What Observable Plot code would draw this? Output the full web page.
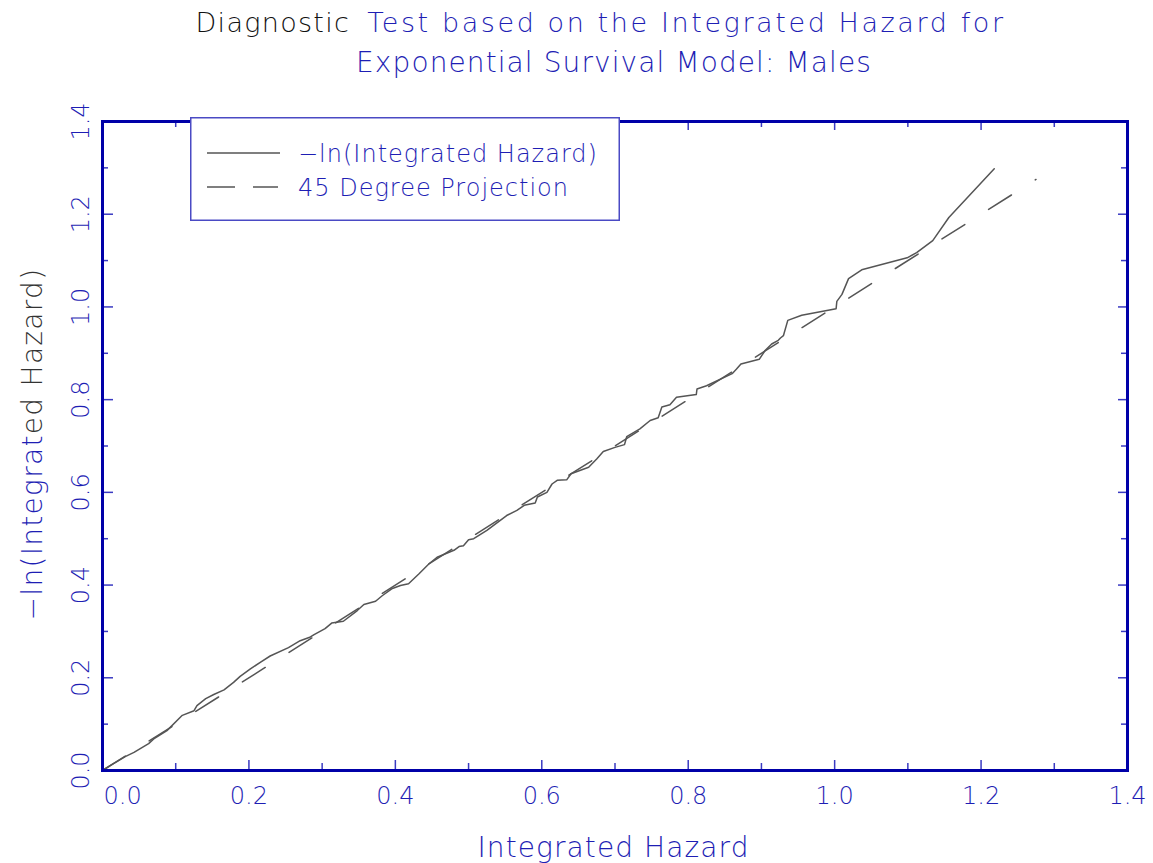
<!DOCTYPE html>
<html>
<head>
<meta charset="utf-8">
<script src="https://cdn.jsdelivr.net/npm/d3@7"></script>
<script src="https://cdn.jsdelivr.net/npm/@observablehq/plot@0.6"></script>
<style>
  body { margin: 0; background: #fff; }
  #wrap { position: relative; width: 1153px; height: 863px; overflow: hidden; }
  #legend { position: absolute; left: 190px; top: 117px; }
</style>
</head>
<body>
<div id="wrap"></div>
<script>
// ---- data ----
const integratedHazard = [0, 0.011, 0.031, 0.043, 0.063, 0.070, 0.088, 0.109, 0.125, 0.129, 0.141, 0.152, 0.166, 0.179, 0.188, 0.202, 0.216, 0.229, 0.254, 0.270, 0.284, 0.289, 0.304, 0.313, 0.329, 0.348, 0.357, 0.373, 0.382, 0.395, 0.407, 0.418, 0.432, 0.446, 0.457, 0.480, 0.487, 0.493, 0.500, 0.507, 0.525, 0.552, 0.566, 0.576, 0.591, 0.594, 0.607, 0.614, 0.621, 0.634, 0.640, 0.664, 0.675, 0.684, 0.700, 0.713, 0.716, 0.734, 0.748, 0.759, 0.764, 0.775, 0.784, 0.811, 0.812, 0.825, 0.860, 0.866, 0.872, 0.897, 0.905, 0.914, 0.923, 0.926, 0.930, 0.936, 0.955, 1.002, 1.003, 1.010, 1.019, 1.037, 1.099, 1.112, 1.134, 1.156, 1.218];
const negLnIntegratedHazard = [0, 0.011, 0.030, 0.039, 0.058, 0.068, 0.086, 0.119, 0.129, 0.140, 0.155, 0.164, 0.174, 0.190, 0.203, 0.219, 0.234, 0.247, 0.265, 0.280, 0.288, 0.293, 0.306, 0.318, 0.322, 0.345, 0.358, 0.365, 0.377, 0.392, 0.399, 0.403, 0.424, 0.446, 0.460, 0.475, 0.483, 0.485, 0.498, 0.500, 0.518, 0.550, 0.561, 0.572, 0.577, 0.590, 0.600, 0.618, 0.626, 0.627, 0.640, 0.654, 0.672, 0.688, 0.697, 0.703, 0.720, 0.737, 0.755, 0.761, 0.784, 0.789, 0.805, 0.811, 0.823, 0.830, 0.856, 0.866, 0.877, 0.887, 0.906, 0.920, 0.928, 0.933, 0.938, 0.971, 0.982, 0.996, 1.012, 1.027, 1.061, 1.080, 1.106, 1.117, 1.143, 1.193, 1.298];
const projectionX = [0, 1.275];
const projectionY = [0, 1.275];

const xMajorTicks = [0, 0.2, 0.4, 0.6, 0.8, 1.0, 1.2, 1.4];
const xMinorTicks = [0.1, 0.3, 0.5, 0.7, 0.9, 1.1, 1.3];
const yMajorTicks = [0, 0.2, 0.4, 0.6, 0.8, 1.0, 1.2, 1.4];
const yMinorTicks = [0.1, 0.3, 0.5, 0.7, 0.9, 1.1, 1.3];
const xTickLabels = ["0.0", "0.2", "0.4", "0.6", "0.8", "1.0", "1.2", "1.4"];
const yTickLabels = ["0.0", "0.2", "0.4", "0.6", "0.8", "1.0", "1.2", "1.4"];

const titleLead = "Diagnostic";
const titleRest = "Test based on the Integrated Hazard for";
const titleLine2 = "Exponential Survival Model: Males";
const xLabel = "Integrated Hazard";
const yLabelA = "\u2212ln(Integrat";
const yLabelB = "ed Hazard)";
const seriesNames = ["\u2212ln(Integrated Hazard)", "45 Degree Projection"];

// ---- tables ----
const curve = integratedHazard.map((x, i) => ({x, y: negLnIntegratedHazard[i]}));
const projection = projectionX.map((x, i) => ({x, y: projectionY[i]}));
const xTicks = xMajorTicks.map((v, i) => ({v, label: xTickLabels[i]}));
const yTicks = yMajorTicks.map((v, i) => ({v, label: yTickLabels[i]}));

const BLUE = "#1e1eb4";
const FRAME = "#0000a8";
const TICK = "#3a3ac2";
const LINE = "#555555";
const FONT = "DejaVu Sans";
const WEIGHT = 200;

const tickOpts = {tickFormat: () => "", label: null, stroke: TICK, strokeWidth: 1.5};

const svg = Plot.plot({
  width: 1153,
  height: 863,
  marginLeft: 102,
  marginRight: 26,
  marginTop: 121,
  marginBottom: 93,
  style: {fontFamily: FONT, fontWeight: WEIGHT, background: "white", overflow: "visible"},
  x: {domain: [0, 1.4], axis: null},
  y: {domain: [0, 1.4], axis: null},
  marks: [
    Plot.line(projection, {x: "x", y: "y", stroke: LINE, strokeWidth: 1.5, strokeDasharray: "27,28.2"}),
    Plot.line(curve, {x: "x", y: "y", stroke: LINE, strokeWidth: 1.5}),
    Plot.axisX(xMajorTicks, {anchor: "bottom", tickSize: -10, ...tickOpts}),
    Plot.axisX(xMinorTicks, {anchor: "bottom", tickSize: -7, ...tickOpts}),
    Plot.axisX(xMajorTicks, {anchor: "top", tickSize: -8, ...tickOpts}),
    Plot.axisX(xMinorTicks, {anchor: "top", tickSize: -5, ...tickOpts}),
    Plot.axisY(yMajorTicks, {anchor: "left", tickSize: -11, ...tickOpts}),
    Plot.axisY(yMinorTicks, {anchor: "left", tickSize: -6, ...tickOpts}),
    Plot.axisY(yMajorTicks, {anchor: "right", tickSize: -10, ...tickOpts}),
    Plot.axisY(yMinorTicks, {anchor: "right", tickSize: -7, ...tickOpts}),
    Plot.frame({stroke: FRAME, strokeWidth: 3}),
    // x tick labels
    Plot.text(xTicks.slice(0, 1), {x: "v", text: "label", frameAnchor: "bottom", dy: 26, dx: 1, textAnchor: "start", lineAnchor: "middle", fill: BLUE, fontSize: 24, fontWeight: WEIGHT}),
    Plot.text(xTicks.slice(1), {x: "v", text: "label", frameAnchor: "bottom", dy: 26, textAnchor: "middle", lineAnchor: "middle", fill: BLUE, fontSize: 24, fontWeight: WEIGHT}),
    // y tick labels
    Plot.text(yTicks, {y: "v", text: "label", frameAnchor: "left", dx: -21, rotate: -90, textAnchor: "middle", lineAnchor: "middle", fill: BLUE, fontSize: 24, fontWeight: WEIGHT}),
    // axis titles
    Plot.text([xLabel], {text: d => d, frameAnchor: "bottom", dx: -1.5, dy: 86, textAnchor: "middle", lineAnchor: "bottom", fill: BLUE, fontSize: 28, fontWeight: WEIGHT}),
    Plot.text([yLabelA + yLabelB], {text: d => d, frameAnchor: "left", dx: -69, dy: -2, rotate: -90, textAnchor: "middle", lineAnchor: "middle", fill: BLUE, fontSize: 28, fontWeight: WEIGHT}),
    // title
    Plot.text([titleLead + " " + titleRest], {text: d => d, frameAnchor: "top-left", dx: 93, dy: -90, textAnchor: "start", lineAnchor: "bottom", fill: BLUE, fontSize: 27, fontWeight: WEIGHT}),
    Plot.text([titleLine2], {text: d => d, frameAnchor: "top", dx: -1, dy: -50, textAnchor: "middle", lineAnchor: "bottom", fill: BLUE, fontSize: 28, fontWeight: WEIGHT})
  ]
});

document.getElementById("wrap").appendChild(svg);
const root = d3.select(svg);
function byText(str) { return root.selectAll("text").filter(function () { return this.textContent === str; }); }
byText(xLabel).attr("letter-spacing", 1.1);
byText(titleLine2).attr("letter-spacing", 1.1);

// two-colour title line 1
byText(titleLead + " " + titleRest).each(function () {
  const t = d3.select(this);
  t.text(null);
  t.append("tspan").attr("fill", "#111").attr("letter-spacing", 1.3).text(titleLead);
  t.append("tspan").attr("fill", BLUE).attr("letter-spacing", 2.6).attr("dx", 17).text(titleRest);
});
// two-colour y label
byText(yLabelA + yLabelB).attr("letter-spacing", 1.3).each(function () {
  const t = d3.select(this);
  t.text(null);
  t.append("tspan").attr("fill", BLUE).text(yLabelA);
  t.append("tspan").attr("fill", "#333").text(yLabelB);
});

// legend
const lg = d3.select("#wrap").append("svg").attr("id", "legend").attr("width", 431).attr("height", 105)
  .style("font-family", FONT).style("font-weight", WEIGHT);
lg.append("rect").attr("x", 0.75).attr("y", 0.75).attr("width", 428.5).attr("height", 102.5)
  .attr("fill", "white").attr("stroke", "#4a4ac4").attr("stroke-width", 1.5);
lg.append("line").attr("x1", 17).attr("x2", 90).attr("y1", 36).attr("y2", 36).attr("stroke", LINE).attr("stroke-width", 1.5);
lg.append("line").attr("x1", 17).attr("x2", 88).attr("y1", 70).attr("y2", 70).attr("stroke", LINE).attr("stroke-width", 1.5)
  .attr("stroke-dasharray", "28,18");
lg.selectAll("text.entry").data(seriesNames).join("text").attr("class", "entry")
  .attr("x", 108).attr("y", (d, i) => 45 + i * 34)
  .attr("font-size", 24).attr("letter-spacing", 1).attr("fill", BLUE).text(d => d);
</script>
</body>
</html>
